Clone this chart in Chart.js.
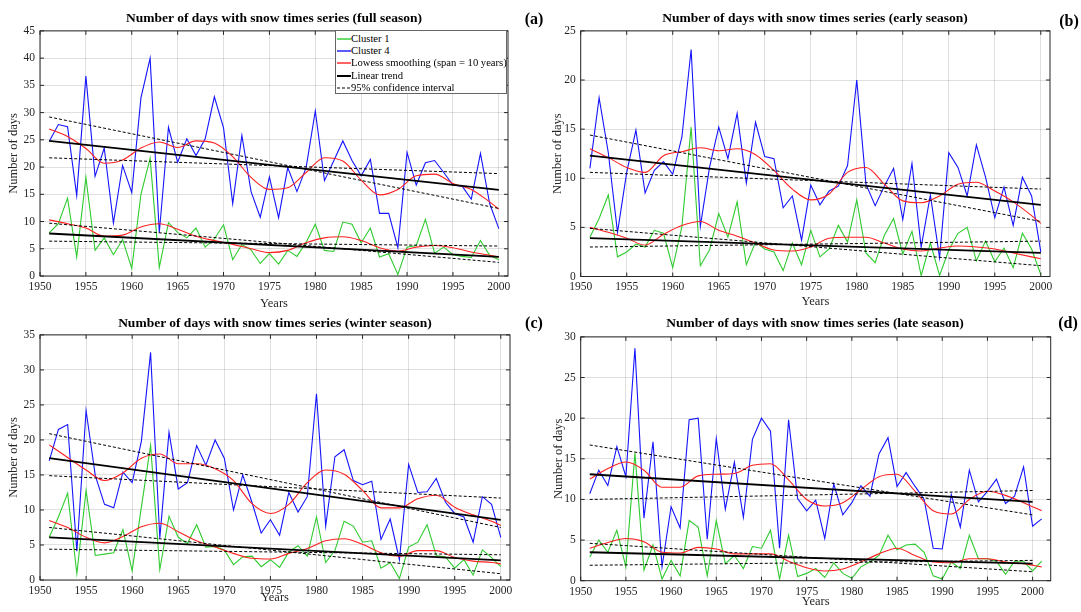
<!DOCTYPE html>
<html lang="en">
<head>
<meta charset="UTF-8">
<title>Number of days with snow times series</title>
<script src="https://cdn.jsdelivr.net/npm/chart.js"></script>
<style>
  body { margin: 0; background: #fff; font-family: 'Liberation Serif', 'Times New Roman', serif; }
  #page { position: relative; width: 1081px; height: 612px; overflow: hidden; background: #fff; }
  canvas { position: absolute; }
  .ttl { position: absolute; font-weight: bold; font-size: 13.5px; line-height: 15px; color: #000; transform: translateX(-50%); white-space: nowrap; z-index: 2; }
  .lbl { position: absolute; font-weight: bold; font-size: 16px; line-height: 18px; color: #000; transform: translateX(-50%); z-index: 2; }
  #legend { position: absolute; left: 335px; top: 30px; width: 172px; height: 64px; background: #fff; border: 1px solid #666; z-index: 3; font-size: 10.6px; color: #000; padding-top: 2px; box-sizing: border-box; }
  #legend .row { position: relative; height: 12.2px; line-height: 12.2px; white-space: nowrap; padding-left: 15px; }
  #legend svg { position: absolute; left: 1px; top: 4px; }
</style>
</head>
<body>
<div id="page">
  <div class="ttl" style="left:274px; top:10px;">Number of days with snow times series (full season)</div>
  <div class="ttl" style="left:815px; top:10px;">Number of days with snow times series (early season)</div>
  <div class="ttl" style="left:275px; top:315px;">Number of days with snow times series (winter season)</div>
  <div class="ttl" style="left:815px; top:315px;">Number of days with snow times series (late season)</div>
  <div class="lbl" style="left:534px; top:10px;">(a)</div>
  <div class="lbl" style="left:1069px; top:12px;">(b)</div>
  <div class="lbl" style="left:534px; top:314px;">(c)</div>
  <div class="lbl" style="left:1068px; top:314px;">(d)</div>

  <canvas id="cA" width="530" height="297" style="left:0px; top:19px;"></canvas>
  <canvas id="cB" width="536" height="297" style="left:545px; top:19px;"></canvas>
  <canvas id="cC" width="530" height="289" style="left:0px; top:323px;"></canvas>
  <canvas id="cD" width="536" height="287" style="left:545px; top:325px;"></canvas>

  <div id="legend">
    <div class="row"><svg width="14" height="4"><line x1="0" y1="2" x2="14" y2="2" stroke="#2fcb2f" stroke-width="1.4"/></svg>Cluster 1</div>
    <div class="row"><svg width="14" height="4"><line x1="0" y1="2" x2="14" y2="2" stroke="#1414ff" stroke-width="1.4"/></svg>Cluster 4</div>
    <div class="row"><svg width="14" height="4"><line x1="0" y1="2" x2="14" y2="2" stroke="#ff1f1f" stroke-width="1.4"/></svg>Lowess smoothing (span = 10 years)</div>
    <div class="row"><svg width="14" height="4"><line x1="0" y1="2" x2="14" y2="2" stroke="#000" stroke-width="2"/></svg>Linear trend</div>
    <div class="row"><svg width="14" height="4"><line x1="0" y1="2" x2="14" y2="2" stroke="#000" stroke-width="1" stroke-dasharray="3 2"/></svg>95% confidence interval</div>
  </div>
</div>

<script>
// x categories and tick labels
const xTicks = [1950, 1955, 1960, 1965, 1970, 1975, 1980, 1985, 1990, 1995, 2000];
const yTicksA = [0, 5, 10, 15, 20, 25, 30, 35, 40, 45];
const yTicksB = [0, 5, 10, 15, 20, 25];
const yTicksC = [0, 5, 10, 15, 20, 25, 30, 35];
const yTicksD = [0, 5, 10, 15, 20, 25, 30];

const years = Array.from({length: 50}, (_, i) => 1951 + i);        // 1951-2000
const yearsD = Array.from({length: 51}, (_, i) => 1951 + i);       // 1951-2001
const oddYears = Array.from({length: 25}, (_, i) => 1951 + 2 * i); // 1951..1999
const lowYears = oddYears.concat([2000]);
const lowYearsD = oddYears.concat([2001]);
const trendYears = [1951, 2000];

// (a) full season
const blueA = [24.7, 27.8, 27.4, 14.8, 36.7, 18.3, 23.5, 9.7, 20.3, 15.3,
               32.7, 40.0, 8.0, 27.3, 20.9, 25.2, 22.1, 25.2, 32.9, 27.2,
               13.3, 25.8, 15.5, 10.8, 18.2, 10.7, 19.9, 15.5, 19.9, 30.3,
               17.5, 21.1, 24.8, 21.2, 18.4, 21.4, 11.5, 11.5, 5.2, 22.7,
               16.7, 20.8, 21.2, 19.0, 16.7, 16.5, 14.1, 22.5, 13.3, 8.7];
const greenA = [7.9, 9.6, 14.3, 3.5, 18.1, 4.7, 7.0, 3.9, 6.7, 1.4,
                15.0, 21.6, 1.6, 9.8, 8.0, 7.0, 8.8, 5.3, 6.8, 9.4,
                3.0, 5.8, 4.8, 2.3, 4.1, 2.2, 4.7, 3.6, 6.2, 9.5,
                4.7, 4.5, 9.9, 9.5, 6.1, 8.8, 3.5, 4.1, 0.3, 5.3,
                5.6, 10.4, 4.2, 5.3, 3.9, 3.6, 3.4, 6.5, 3.8, 3.0];
const lowBlueA = [27.0, 25.6, 23.4, 20.7, 21.3, 23.5, 24.6, 23.6, 24.8, 24.4, 21.9, 18.1, 15.9,
                  16.2, 19.0, 21.7, 21.1, 17.6, 14.9, 15.9, 18.4, 18.7, 17.0, 15.9, 13.6, 12.3];
const lowGreenA = [10.3, 9.6, 8.8, 7.3, 7.5, 9.0, 9.6, 8.6, 7.3, 6.5, 5.8, 5.0, 4.3,
                   4.7, 6.1, 7.0, 7.2, 6.5, 5.2, 4.6, 5.3, 5.6, 5.2, 4.4, 3.8, 3.5];
const trendBlueA = [24.8, 15.8];
const trendGreenA = [7.8, 3.5];
const ciBlueA1 = [29.2, 12.4], ciBlueA2 = [21.7, 18.8];
const ciGreenA1 = [9.7, 2.5], ciGreenA2 = [6.4, 5.5];

// (b) early season
const blueB = [11.0, 18.2, 12.6, 4.5, 10.6, 14.9, 8.5, 10.8, 11.7, 10.4,
               14.2, 23.1, 5.1, 11.1, 15.2, 12.0, 16.6, 9.5, 15.7, 12.2,
               12.0, 7.0, 8.2, 3.7, 9.3, 7.3, 8.7, 9.2, 11.3, 20.0,
               9.4, 7.2, 9.2, 11.0, 5.8, 11.5, 3.0, 8.3, 1.9, 12.6,
               11.1, 8.2, 13.4, 10.1, 6.0, 9.1, 5.2, 10.1, 8.2, 2.5];
const greenB = [4.0, 5.9, 8.3, 2.0, 2.5, 3.3, 3.0, 4.7, 4.4, 0.9,
                5.1, 15.2, 1.1, 2.7, 6.4, 4.0, 7.6, 1.2, 3.5, 2.8,
                2.5, 0.6, 3.4, 1.2, 4.7, 2.0, 2.8, 5.2, 3.5, 7.8,
                2.4, 1.4, 4.2, 5.9, 2.3, 4.6, 0.1, 3.4, 0.1, 2.7,
                4.4, 5.0, 1.6, 3.6, 1.5, 2.9, 0.9, 4.4, 2.8, 0.2];
const lowBlueB = [13.0, 12.1, 11.1, 10.6, 12.3, 12.7, 13.1, 12.8, 13.0, 12.4, 10.8, 8.9, 7.8,
                  8.4, 10.6, 11.1, 9.4, 7.7, 7.5, 8.2, 9.4, 9.6, 8.7, 7.6, 6.2, 5.4];
const lowGreenB = [5.0, 4.5, 3.9, 3.2, 4.3, 5.2, 5.6, 4.7, 4.1, 3.4, 2.7, 2.6, 3.0,
                   3.9, 4.0, 4.0, 3.4, 2.8, 2.6, 2.9, 3.1, 3.0, 2.8, 2.4, 2.0, 1.8];
const trendBlueB = [12.3, 7.3];
const trendGreenB = [3.9, 2.4];
const ciBlueB1 = [14.4, 5.6], ciBlueB2 = [10.6, 8.9];
const ciGreenB1 = [4.9, 1.1], ciGreenB2 = [3.0, 3.6];

// (c) winter season
const blueC = [17.0, 21.5, 22.2, 4.1, 24.2, 14.9, 10.8, 10.3, 15.4, 13.9,
               19.8, 32.5, 6.0, 21.1, 13.0, 13.9, 19.2, 16.4, 20.0, 17.4,
               10.0, 15.0, 11.1, 6.7, 8.6, 6.4, 12.5, 9.7, 11.9, 26.6,
               7.7, 17.6, 18.6, 14.2, 13.6, 14.1, 5.8, 8.7, 2.9, 16.5,
               12.5, 12.6, 14.5, 11.1, 9.5, 9.0, 5.4, 11.9, 10.8, 6.1];
const greenC = [6.1, 9.0, 12.4, 0.9, 12.8, 3.5, 3.7, 3.9, 7.2, 1.3,
                10.4, 19.2, 1.5, 9.1, 6.1, 5.2, 7.9, 4.7, 4.8, 4.3,
                2.2, 3.3, 3.4, 1.9, 2.9, 1.8, 4.0, 4.9, 3.4, 9.0,
                2.5, 4.2, 8.4, 7.7, 5.4, 5.6, 1.7, 2.5, 0.2, 4.7,
                5.4, 7.9, 3.5, 3.3, 1.7, 2.9, 0.7, 4.3, 3.2, 1.9];
const lowBlueC = [19.3, 17.5, 15.7, 14.2, 15.3, 17.4, 18.0, 16.6, 16.6, 15.9, 14.2, 10.9, 9.5,
                  10.8, 13.9, 15.7, 15.1, 12.8, 10.3, 10.3, 11.6, 12.1, 10.4, 9.3, 8.4, 7.8];
const lowGreenC = [8.5, 7.5, 6.1, 5.3, 6.2, 7.6, 8.1, 6.9, 5.6, 4.7, 3.8, 3.1, 3.0,
                   3.8, 4.5, 5.6, 5.9, 5.1, 3.9, 3.4, 4.2, 4.2, 3.2, 2.7, 2.5, 2.3];
const trendBlueC = [17.4, 8.6];
const trendGreenC = [6.1, 2.8];
const ciBlueC1 = [20.9, 7.5], ciBlueC2 = [14.9, 11.7];
const ciGreenC1 = [7.5, 0.9], ciGreenC2 = [4.4, 3.6];

// (d) late season
const blueD = [10.7, 13.6, 11.7, 16.5, 12.8, 28.6, 7.7, 17.1, 1.7, 9.1,
               6.5, 19.8, 20.0, 5.1, 17.5, 8.8, 14.6, 7.8, 17.4, 20.0,
               18.4, 4.0, 19.8, 10.1, 8.6, 9.9, 5.2, 11.9, 8.1, 9.6,
               11.7, 10.4, 15.6, 17.6, 11.6, 13.3, 11.6, 10.0, 4.0, 3.9,
               10.6, 6.6, 13.6, 9.7, 11.0, 12.5, 9.5, 10.4, 14.0, 6.7, 7.6];
const greenD = [2.9, 5.0, 3.5, 6.2, 1.7, 15.7, 1.3, 4.4, 0.2, 2.5,
                0.6, 7.4, 6.6, 0.6, 7.4, 2.1, 3.1, 1.5, 4.2, 4.0,
                6.2, 0.2, 5.6, 0.5, 0.9, 1.5, 0.4, 2.2, 0.9, 0.3,
                1.7, 2.3, 3.1, 5.6, 3.8, 4.4, 4.5, 3.5, 0.6, 0.2,
                2.3, 1.5, 5.6, 2.7, 2.7, 2.4, 0.8, 2.4, 2.4, 1.2, 2.4];
const lowBlueD = [12.5, 13.8, 14.6, 13.6, 11.5, 11.5, 12.9, 13.1, 13.2, 14.2, 14.4, 12.4, 10.0,
                  9.2, 9.6, 11.2, 12.8, 13.1, 11.0, 8.6, 8.2, 10.0, 11.0, 10.5, 9.6, 8.6];
const lowGreenD = [4.0, 4.7, 5.2, 4.8, 3.5, 3.4, 4.1, 3.9, 3.3, 3.3, 3.3, 2.4, 1.6,
                   1.2, 1.45, 2.3, 3.3, 4.0, 3.1, 2.3, 2.2, 2.7, 2.7, 2.3, 2.1, 1.7];
const trendBlueD = [13.1, 9.7];
const trendGreenD = [3.5, 2.1];
const ciBlueD1 = [16.7, 8.1], ciBlueD2 = [10.0, 11.1];
const ciGreenD1 = [4.6, 1.1], ciGreenD2 = [1.9, 2.5];

const GREEN = '#2fcb2f', BLUE = '#1414ff', RED = '#ff1f1f', INK = '#262626';
const SERIF = "'Liberation Serif', 'Times New Roman', serif";

const pts = (xs, ys) => xs.map((x, i) => ({x: x, y: ys[i]}));

// box around the axes plus inward tick marks, like the original
const framePlugin = {
  id: 'frame',
  afterDraw(chart) {
    const {ctx, chartArea: a, scales: {x, y}} = chart;
    ctx.save();
    ctx.strokeStyle = INK;
    ctx.lineWidth = 1;
    ctx.strokeRect(a.left, a.top, a.right - a.left, a.bottom - a.top);
    ctx.beginPath();
    x.ticks.forEach(t => {
      const px = x.getPixelForValue(t.value);
      ctx.moveTo(px, a.bottom); ctx.lineTo(px, a.bottom - 4);
      ctx.moveTo(px, a.top); ctx.lineTo(px, a.top + 4);
    });
    y.ticks.forEach(t => {
      const py = y.getPixelForValue(t.value);
      ctx.moveTo(a.left, py); ctx.lineTo(a.left + 4, py);
      ctx.moveTo(a.right, py); ctx.lineTo(a.right - 4, py);
    });
    ctx.stroke();
    ctx.restore();
  }
};

function line(data, color, width, extra) {
  return Object.assign({
    data: data, borderColor: color, borderWidth: width,
    pointRadius: 0, tension: 0, fill: false
  }, extra || {});
}

function makePanel(p) {
  const dash = {borderDash: [3, 2]};
  const smooth = {cubicInterpolationMode: 'monotone'};
  new Chart(document.getElementById(p.id), {
    type: 'line',
    data: {
      datasets: [
        line(pts(trendYears, p.ciB1), '#000', 1, dash),
        line(pts(trendYears, p.ciB2), '#000', 1, dash),
        line(pts(trendYears, p.ciG1), '#000', 1, dash),
        line(pts(trendYears, p.ciG2), '#000', 1, dash),
        line(pts(trendYears, p.trB), '#000', 1.8),
        line(pts(trendYears, p.trG), '#000', 1.8),
        line(pts(p.lowYears, p.lowB), RED, 1.1, smooth),
        line(pts(p.lowYears, p.lowG), RED, 1.1, smooth),
        line(pts(p.years, p.blue), BLUE, 1.1),
        line(pts(p.years, p.green), GREEN, 1.1)
      ]
    },
    options: {
      responsive: false,
      animation: false,
      layout: {padding: {top: p.padTop, right: p.padRight, left: 0, bottom: 0}},
      plugins: {legend: {display: false}, tooltip: {enabled: false}},
      scales: {
        x: {
          type: 'linear', min: 1950, max: p.xMax,
          afterBuildTicks: s => { s.ticks = xTicks.map(v => ({value: v})); },
          afterFit: s => { s.height = p.xH; },
          grid: {color: 'rgba(0,0,0,0.12)', drawTicks: false},
          border: {display: false},
          ticks: {font: {family: SERIF, size: 11.5}, color: INK, padding: 4,
                  maxRotation: 0, autoSkip: false, callback: v => String(v)},
          title: {display: true, text: 'Years', color: INK,
                  font: {family: SERIF, size: 12.5}, padding: {top: 0, bottom: p.xTitlePad}}
        },
        y: {
          type: 'linear', min: 0, max: p.yTicks[p.yTicks.length - 1],
          afterBuildTicks: s => { s.ticks = p.yTicks.map(v => ({value: v})); },
          afterFit: s => { s.width = p.yW; },
          grid: {color: 'rgba(0,0,0,0.12)', drawTicks: false},
          border: {display: false},
          ticks: {font: {family: SERIF, size: 11.5}, color: INK, padding: 5},
          title: {display: true, text: 'Number of days', color: INK,
                  font: {family: SERIF, size: 12.5}, padding: {top: p.yTitlePad, bottom: 0}}
        }
      }
    },
    plugins: [framePlugin]
  });
}

makePanel({id: 'cA', padTop: 10.3, padRight: 22, yW: 40, xH: 40, xMax: 2001, yTicks: yTicksA,
  xTitlePad: 4.5, yTitlePad: 6.5, years: years, blue: blueA, green: greenA,
  lowYears: lowYears, lowB: lowBlueA, lowG: lowGreenA, trB: trendBlueA, trG: trendGreenA,
  ciB1: ciBlueA1, ciB2: ciBlueA2, ciG1: ciGreenA1, ciG2: ciGreenA2});

makePanel({id: 'cB', padTop: 10.3, padRight: 31, yW: 35.7, xH: 39.5, xMax: 2001, yTicks: yTicksB,
  xTitlePad: 6.5, yTitlePad: 4.8, years: years, blue: blueB, green: greenB,
  lowYears: lowYears, lowB: lowBlueB, lowG: lowGreenB, trB: trendBlueB, trG: trendGreenB,
  ciB1: ciBlueB1, ciB2: ciBlueB2, ciG1: ciGreenB1, ciG2: ciGreenB2});

makePanel({id: 'cC', padTop: 10.3, padRight: 20, yW: 40, xH: 32, xMax: 2001, yTicks: yTicksC,
  xTitlePad: 6.5, yTitlePad: 6.5, years: years, blue: blueC, green: greenC,
  lowYears: lowYears, lowB: lowBlueC, lowG: lowGreenC, trB: trendBlueC, trG: trendGreenC,
  ciB1: ciBlueC1, ciB2: ciBlueC2, ciG1: ciGreenC1, ciG2: ciGreenC2});

makePanel({id: 'cD', padTop: 10, padRight: 30.3, yW: 35.7, xH: 31.3, xMax: 2002, yTicks: yTicksD,
  xTitlePad: 2.5, yTitlePad: 5.8, years: yearsD, blue: blueD, green: greenD,
  lowYears: lowYearsD, lowB: lowBlueD, lowG: lowGreenD, trB: trendBlueD, trG: trendGreenD,
  ciB1: ciBlueD1, ciB2: ciBlueD2, ciG1: ciGreenD1, ciG2: ciGreenD2});
</script>
</body>
</html>
